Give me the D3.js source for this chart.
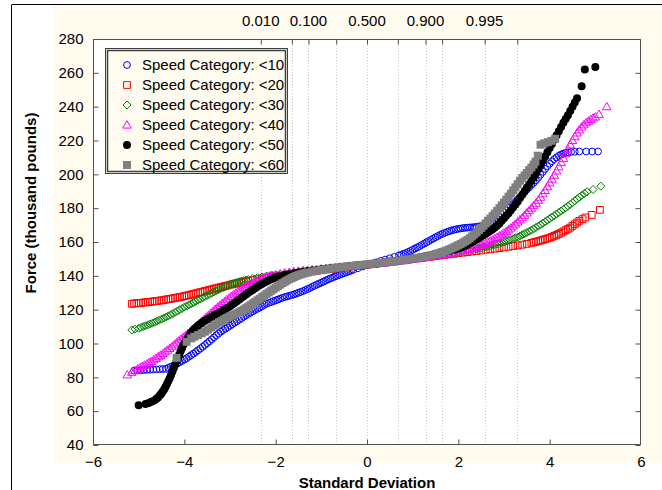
<!DOCTYPE html>
<html><head><meta charset="utf-8">
<script src="https://cdn.jsdelivr.net/npm/d3@7"></script>
<style>
html,body{margin:0;padding:0;background:#fff;}
svg{display:block;font-family:"Liberation Sans",Arial,sans-serif;}
</style></head>
<body>
<svg id="chart" width="662" height="490"></svg>
<script>
// ---------------- data ----------------
const seriesNames = ["Speed Category: <10","Speed Category: <20","Speed Category: <30","Speed Category: <40","Speed Category: <50","Speed Category: <60"];
const yTicks = [40,60,80,100,120,140,160,180,200,220,240,260,280];
const xTicks = [-6,-4,-2,0,2,4,6];
const probGrid = [0.01,0.05,0.1,0.25,0.5,0.75,0.9,0.95,0.995,0.9995];
const probGridZ = [-2.326,-1.645,-1.282,-0.674,0,0.674,1.282,1.645,2.576,3.291];
const probLabels = ["0.010","0.100","0.500","0.900","0.995"];
const probLabelZ = [-2.326,-1.282,0,1.282,2.576];

const sp10 = [[-5.1,84],[-5.03,84.1],[-4.96,84.2],[-4.89,84.3],[-4.82,84.4],[-4.75,84.5],[-4.68,84.6],[-4.61,84.7],[-4.54,84.8],[-4.47,84.9],[-4.4,85],[-4.35,85.6],[-4.3,86.2],[-4.25,86.8],[-4.2,87.5],[-4.15,88.2],[-4.1,89],[-4.05,89.7],[-4.0,90.5],[-3.95,91.3],[-3.9,92.2],[-3.85,93.1],[-3.8,94],[-3.75,95],[-3.7,96],[-3.65,97],[-3.6,98],[-3.55,99.1],[-3.5,100.2],[-3.45,101.3],[-3.4,102.5],[-3.35,103.6],[-3.3,104.8],[-3.25,105.9],[-3.2,107],[-3.15,107.9],[-3.1,108.8],[-3.05,109.6],[-3.0,110.5],[-2.95,111.4],[-2.9,112.3],[-2.85,113.1],[-2.8,114],[-2.75,114.9],[-2.7,115.8],[-2.65,116.6],[-2.6,117.5],[-2.55,118.2],[-2.5,119],[-2.45,119.8],[-2.4,120.5],[-2.35,121.2],[-2.3,122],[-2.25,122.8],[-2.2,123.5],[-2.15,124],[-2.1,124.5],[-2.05,125],[-2.0,125.5],[-1.95,126],[-1.9,126.5],[-1.85,127],[-1.8,127.5],[-1.75,127.8],[-1.7,128.2],[-1.65,128.6],[-1.6,129],[-1.55,129.5],[-1.5,130],[-1.45,130.5],[-1.4,131],[-1.35,131.6],[-1.3,132.2],[-1.25,132.8],[-1.2,133.5],[-1.15,134.1],[-1.1,134.8],[-1.05,135.4],[-1.0,136],[-0.95,136.6],[-0.9,137.3],[-0.85,137.9],[-0.8,138.5],[-0.75,139],[-0.7,139.6],[-0.65,140.1],[-0.6,140.6],[-0.55,141.1],[-0.5,141.6],[-0.45,142.1],[-0.4,142.6],[-0.35,143.1],[-0.3,143.6],[-0.2,144.5],[-0.1,145.5],[0,146.4],[0.1,147.2],[0.2,148],[0.3,148.8],[0.4,149.6],[0.5,150.4],[0.6,151.2],[0.7,152.1],[0.75,152.5],[0.8,153],[0.85,153.5],[0.9,154.1],[0.95,154.7],[1.0,155.4],[1.05,156.1],[1.1,156.8],[1.15,157.5],[1.2,158.3],[1.25,159],[1.3,159.8],[1.35,160.5],[1.4,161.3],[1.45,162],[1.5,162.8],[1.55,163.5],[1.6,164.2],[1.65,164.8],[1.7,165.4],[1.75,165.9],[1.8,166.4],[1.85,166.8],[1.9,167.2],[1.95,167.5],[2.0,167.8],[2.05,168],[2.1,168.2],[2.15,168.4],[2.2,168.5],[2.25,168.6],[2.3,168.7],[2.35,168.8],[2.4,169],[2.45,169.2],[2.5,169.4],[2.55,169.7],[2.6,170],[2.65,170.4],[2.7,171],[2.75,171.8],[2.8,172.8],[2.85,173.8],[2.9,175],[2.95,176.2],[3.0,177.5],[3.05,178.7],[3.1,180],[3.15,181.2],[3.2,182.5],[3.25,183.8],[3.3,185.2],[3.35,186.6],[3.4,188],[3.45,189.5],[3.5,191],[3.55,192.3],[3.6,193.7],[3.65,195.1],[3.7,196.5],[3.75,198.1],[3.8,199.8],[3.85,201.5],[3.9,203.2],[3.95,204.8],[4.0,206.3],[4.05,207.7],[4.1,209],[4.15,210],[4.2,211],[4.25,211.7],[4.3,212.3],[4.35,212.7],[4.4,213],[4.47,213.2],[4.55,213.3],[4.65,213.5],[4.8,213.5],[4.93,213.5],[5.06,213.5]];
const sp20 = [[-5.15,123.5],[-5.1,123.6],[-5.05,123.8],[-5.0,123.9],[-4.95,124],[-4.9,124.2],[-4.85,124.3],[-4.8,124.5],[-4.75,124.6],[-4.7,124.8],[-4.65,125],[-4.6,125.1],[-4.55,125.3],[-4.5,125.5],[-4.45,125.7],[-4.4,126],[-4.35,126.2],[-4.3,126.4],[-4.25,126.7],[-4.2,126.9],[-4.15,127.2],[-4.1,127.4],[-4.05,127.7],[-4.0,128],[-3.95,128.3],[-3.9,128.6],[-3.85,129],[-3.8,129.3],[-3.75,129.6],[-3.7,130],[-3.65,130.3],[-3.6,130.6],[-3.55,131],[-3.5,131.3],[-3.45,131.7],[-3.4,132],[-3.35,132.4],[-3.3,132.7],[-3.25,133],[-3.2,133.4],[-3.15,133.7],[-3.1,134],[-3.05,134.3],[-3.0,134.7],[-2.95,135],[-2.9,135.3],[-2.85,135.6],[-2.8,135.9],[-2.75,136.2],[-2.7,136.5],[-2.65,136.7],[-2.6,137],[-2.5,137.5],[-2.4,138],[-2.3,138.5],[-2.2,139],[-2.1,139.4],[-2.0,139.8],[-1.9,140.2],[-1.8,140.5],[-1.7,140.9],[-1.6,141.2],[-1.5,141.6],[-1.4,142],[-1.3,142.3],[-1.2,142.6],[-1.1,143],[-1.0,143.3],[-0.9,143.7],[-0.8,144],[-0.7,144.3],[-0.6,144.6],[-0.5,145],[-0.4,145.3],[-0.3,145.7],[-0.2,146],[-0.1,146.2],[0,146.5],[0.1,146.9],[0.2,147.2],[0.3,147.5],[0.4,147.8],[0.5,148.2],[0.6,148.5],[0.7,148.9],[0.8,149.2],[0.9,149.6],[1.0,150],[1.1,150.3],[1.2,150.6],[1.3,151],[1.4,151.3],[1.5,151.7],[1.6,152],[1.7,152.4],[1.8,152.7],[1.9,153],[2.0,153.4],[2.1,153.7],[2.2,154],[2.3,154.4],[2.4,154.7],[2.5,155],[2.6,155.4],[2.7,155.7],[2.8,156.1],[2.9,156.4],[3.0,156.8],[3.1,157.2],[3.2,157.6],[3.3,158],[3.4,158.4],[3.5,158.9],[3.6,159.5],[3.65,159.8],[3.7,160.1],[3.75,160.5],[3.8,160.9],[3.85,161.3],[3.9,161.7],[3.95,162.1],[4.0,162.5],[4.05,163],[4.1,163.6],[4.15,164.2],[4.2,164.8],[4.25,165.5],[4.3,166.2],[4.35,167],[4.4,167.7],[4.45,168.5],[4.5,169.5],[4.55,170.5],[4.6,171.5],[4.65,172.5],[4.72,173.5],[4.78,174.5],[4.92,176],[5.1,179]];
const sp30 = [[-5.15,108],[-5.08,108.5],[-5.0,109],[-4.95,109.5],[-4.9,110],[-4.85,110.5],[-4.8,111],[-4.75,111.5],[-4.7,112],[-4.65,112.6],[-4.6,113.2],[-4.55,113.8],[-4.5,114.4],[-4.45,115],[-4.4,115.6],[-4.35,116.3],[-4.3,117],[-4.25,117.7],[-4.2,118.4],[-4.15,119.2],[-4.1,120],[-4.05,120.7],[-4.0,121.5],[-3.95,122.1],[-3.9,122.8],[-3.85,123.5],[-3.8,124.2],[-3.75,124.9],[-3.7,125.6],[-3.65,126.3],[-3.6,127],[-3.55,127.7],[-3.5,128.4],[-3.45,129.1],[-3.4,129.8],[-3.35,130.5],[-3.3,131.2],[-3.25,131.9],[-3.2,132.5],[-3.15,133.1],[-3.1,133.7],[-3.05,134.3],[-3.0,134.8],[-2.95,135.3],[-2.9,135.7],[-2.85,136.1],[-2.8,136.5],[-2.75,136.9],[-2.7,137.2],[-2.65,137.5],[-2.6,137.8],[-2.5,138.4],[-2.4,138.9],[-2.3,139.3],[-2.2,139.8],[-2.1,140.2],[-2.0,140.5],[-1.9,140.9],[-1.8,141.2],[-1.7,141.5],[-1.6,141.8],[-1.5,142.1],[-1.4,142.4],[-1.3,142.7],[-1.2,143],[-1.1,143.3],[-1.0,143.6],[-0.9,143.9],[-0.8,144.2],[-0.7,144.5],[-0.6,144.8],[-0.5,145.1],[-0.4,145.4],[-0.3,145.7],[-0.2,146],[-0.1,146.2],[0,146.5],[0.1,146.9],[0.2,147.2],[0.3,147.6],[0.4,147.9],[0.5,148.3],[0.6,148.6],[0.7,149],[0.8,149.3],[0.9,149.7],[1.0,150],[1.1,150.4],[1.2,150.7],[1.3,151.1],[1.4,151.5],[1.5,151.9],[1.6,152.3],[1.7,152.7],[1.8,153.1],[1.9,153.5],[2.0,154],[2.1,154.5],[2.2,155],[2.3,155.5],[2.4,156],[2.45,156.3],[2.5,156.6],[2.55,156.9],[2.6,157.2],[2.65,157.5],[2.7,157.8],[2.75,158.2],[2.8,158.5],[2.85,158.9],[2.9,159.2],[2.95,159.6],[3.0,160],[3.05,160.5],[3.1,161],[3.15,161.5],[3.2,162],[3.25,162.5],[3.3,163],[3.35,163.6],[3.4,164.3],[3.45,164.9],[3.5,165.6],[3.55,166.3],[3.6,167],[3.65,167.8],[3.7,168.6],[3.75,169.4],[3.8,170.2],[3.85,171.1],[3.9,172],[3.95,172.9],[4.0,173.8],[4.05,174.7],[4.1,175.6],[4.15,176.5],[4.2,177.4],[4.25,178.3],[4.3,179.3],[4.35,180.2],[4.4,181.2],[4.45,182.2],[4.5,183.2],[4.55,184.4],[4.6,185.5],[4.65,186.5],[4.7,187.5],[4.76,188.7],[4.82,189.7],[4.95,191],[5.12,193]];
const sp40 = [[-5.25,81.5],[-5.15,83],[-5.08,84],[-5.02,85],[-4.97,85.7],[-4.92,86.5],[-4.87,87.2],[-4.82,88],[-4.77,88.7],[-4.72,89.5],[-4.67,90.4],[-4.62,91.3],[-4.57,92.2],[-4.52,93.1],[-4.47,94.1],[-4.42,95.1],[-4.37,96.1],[-4.32,97.1],[-4.27,98.2],[-4.22,99.3],[-4.17,100.4],[-4.12,101.5],[-4.07,102.6],[-4.02,103.7],[-3.97,104.8],[-3.92,106],[-3.87,107.1],[-3.82,108.3],[-3.77,109.5],[-3.72,110.7],[-3.67,111.9],[-3.62,113.1],[-3.57,114.3],[-3.52,115.5],[-3.47,116.7],[-3.42,117.9],[-3.37,119.1],[-3.32,120.3],[-3.27,121.5],[-3.22,122.6],[-3.17,123.7],[-3.12,124.8],[-3.07,125.9],[-3.02,126.9],[-2.97,127.9],[-2.92,128.9],[-2.87,129.8],[-2.82,130.7],[-2.77,131.6],[-2.72,132.4],[-2.67,133.2],[-2.62,134],[-2.57,134.8],[-2.52,135.5],[-2.47,136.2],[-2.42,136.9],[-2.37,137.5],[-2.32,138.1],[-2.27,138.6],[-2.22,139.1],[-2.17,139.5],[-2.12,139.9],[-2.07,140.2],[-2.0,140.6],[-1.9,141.2],[-1.8,141.7],[-1.7,142.1],[-1.6,142.5],[-1.5,142.8],[-1.4,143.1],[-1.3,143.3],[-1.2,143.6],[-1.1,143.8],[-1.0,144.1],[-0.9,144.3],[-0.8,144.6],[-0.7,144.8],[-0.6,145.1],[-0.5,145.3],[-0.4,145.6],[-0.3,145.8],[-0.2,146.1],[-0.1,146.3],[0,146.6],[0.1,146.8],[0.2,147.1],[0.3,147.4],[0.4,147.7],[0.5,148],[0.6,148.3],[0.7,148.7],[0.8,149],[0.9,149.4],[1.0,149.8],[1.1,150.2],[1.2,150.6],[1.3,151],[1.4,151.4],[1.5,151.8],[1.6,152.2],[1.7,152.7],[1.8,153.2],[1.9,153.7],[2.0,154.2],[2.1,154.8],[2.2,155.5],[2.25,155.8],[2.3,156.2],[2.35,156.6],[2.4,157.1],[2.45,157.6],[2.5,158.1],[2.55,158.7],[2.6,159.3],[2.65,159.9],[2.7,160.6],[2.75,161.3],[2.8,162.1],[2.85,162.8],[2.9,163.6],[2.95,164.4],[3.0,165.3],[3.05,166.2],[3.1,167.2],[3.15,168.3],[3.2,169.4],[3.25,170.6],[3.3,171.8],[3.35,173.1],[3.4,174.4],[3.45,175.8],[3.5,177.2],[3.55,178.6],[3.6,180],[3.65,181.5],[3.7,183],[3.75,184.7],[3.8,186.5],[3.85,188.5],[3.9,190.5],[3.95,192.7],[4.0,195],[4.05,197.2],[4.1,199.5],[4.15,202],[4.2,204.5],[4.25,207],[4.3,209.5],[4.35,212.2],[4.4,215],[4.45,217.5],[4.5,220],[4.55,222.3],[4.6,224.5],[4.65,226.3],[4.7,228],[4.75,229.3],[4.8,230.5],[4.85,231.5],[4.9,232.5],[4.95,233.3],[5.0,234],[5.08,235.5],[5.25,240]];
const sp50 = [[-5.0,63.5],[-4.85,64.2],[-4.78,64.8],[-4.72,65.5],[-4.66,66.3],[-4.61,67.3],[-4.57,68.3],[-4.53,69.5],[-4.5,70.5],[-4.47,71.8],[-4.44,73],[-4.41,74.5],[-4.38,76],[-4.35,77.8],[-4.32,79.5],[-4.29,81.5],[-4.26,83.5],[-4.23,85.5],[-4.2,87.5],[-4.17,89.5],[-4.14,91.5],[-4.11,93.5],[-4.08,95.5],[-4.05,97.3],[-4.02,99.2],[-3.98,101],[-3.94,102.8],[-3.9,104.3],[-3.86,106],[-3.82,107.3],[-3.78,108.5],[-3.74,109.5],[-3.7,110.5],[-3.65,111.5],[-3.6,112.5],[-3.55,113.4],[-3.5,114.2],[-3.45,115],[-3.4,115.8],[-3.35,116.5],[-3.3,117.3],[-3.25,118],[-3.2,118.8],[-3.15,119.6],[-3.1,120.4],[-3.05,121.2],[-3.0,122],[-2.95,123],[-2.9,124],[-2.85,125],[-2.8,126],[-2.75,127],[-2.7,128],[-2.65,129],[-2.6,130],[-2.55,130.9],[-2.5,131.8],[-2.45,132.7],[-2.4,133.5],[-2.35,134.4],[-2.3,135.2],[-2.25,136],[-2.2,136.7],[-2.15,137.4],[-2.1,138],[-2.05,138.5],[-2.0,139],[-1.95,139.4],[-1.9,139.8],[-1.8,140.5],[-1.7,141],[-1.6,141.5],[-1.5,142],[-1.4,142.4],[-1.3,142.8],[-1.2,143.2],[-1.1,143.5],[-1.0,143.9],[-0.9,144.2],[-0.8,144.5],[-0.7,144.8],[-0.6,145.1],[-0.5,145.4],[-0.4,145.7],[-0.3,145.9],[-0.2,146.2],[-0.1,146.4],[0,146.7],[0.1,147],[0.2,147.3],[0.3,147.6],[0.4,148],[0.5,148.3],[0.6,148.7],[0.7,149],[0.8,149.4],[0.9,149.8],[1.0,150.2],[1.1,150.7],[1.2,151.2],[1.3,151.7],[1.4,152.2],[1.5,152.8],[1.6,153.4],[1.7,154],[1.8,154.7],[1.9,155.4],[1.95,155.8],[2.0,156.2],[2.05,156.6],[2.1,157.2],[2.15,157.8],[2.2,158.5],[2.25,159.2],[2.3,160],[2.35,160.8],[2.4,161.6],[2.45,162.4],[2.5,163.2],[2.55,164],[2.6,164.9],[2.65,165.8],[2.7,166.7],[2.75,167.6],[2.8,168.5],[2.85,169.7],[2.9,171],[2.95,172.5],[3.0,174],[3.05,175.5],[3.1,177],[3.15,178.7],[3.2,180.5],[3.25,182.2],[3.3,184],[3.35,186],[3.4,188],[3.45,190],[3.5,192],[3.55,194],[3.6,196],[3.65,198.2],[3.7,200.5],[3.75,203],[3.8,205.5],[3.85,208],[3.9,210.5],[3.95,213],[4.0,215.5],[4.05,218],[4.1,220.5],[4.15,223],[4.2,225.5],[4.25,228],[4.3,230.5],[4.35,232.7],[4.4,235],[4.45,237.5],[4.5,240],[4.55,242.5],[4.6,245],[4.7,252],[4.77,262],[5.0,263.5]];
const sp60 = [[-4.17,91.5],[-3.95,101],[-3.85,103],[-3.78,104],[-3.7,105],[-3.62,106],[-3.55,107],[-3.48,108.2],[-3.41,109.4],[-3.35,110.5],[-3.29,111.6],[-3.24,112.5],[-3.18,113.4],[-3.13,114.2],[-3.07,115],[-3.02,115.8],[-2.96,116.5],[-2.91,117.2],[-2.85,117.8],[-2.8,118.5],[-2.75,119.2],[-2.7,120],[-2.65,120.9],[-2.6,121.8],[-2.55,122.7],[-2.5,123.6],[-2.45,124.5],[-2.4,125.5],[-2.35,126.4],[-2.3,127.4],[-2.25,128.3],[-2.2,129.3],[-2.15,130.2],[-2.1,131.2],[-2.05,132.1],[-2.0,133],[-1.95,133.9],[-1.9,134.8],[-1.85,135.7],[-1.8,136.5],[-1.75,137.3],[-1.7,138],[-1.65,138.7],[-1.6,139.3],[-1.55,139.9],[-1.5,140.4],[-1.45,140.9],[-1.4,141.3],[-1.35,141.7],[-1.3,142],[-1.2,142.6],[-1.1,143.1],[-1.0,143.5],[-0.9,143.9],[-0.8,144.3],[-0.7,144.7],[-0.6,145],[-0.5,145.3],[-0.4,145.6],[-0.3,145.9],[-0.2,146.2],[-0.1,146.5],[0,146.8],[0.1,147.1],[0.2,147.4],[0.3,147.7],[0.4,148],[0.5,148.3],[0.6,148.7],[0.7,149],[0.8,149.4],[0.9,149.8],[1.0,150.2],[1.1,150.6],[1.2,151.1],[1.3,151.6],[1.4,152.2],[1.5,152.9],[1.55,153.2],[1.6,153.6],[1.65,154.1],[1.7,154.5],[1.75,155],[1.8,155.6],[1.85,156.2],[1.9,156.8],[1.95,157.4],[2.0,158.1],[2.05,158.8],[2.1,159.6],[2.15,160.4],[2.2,161.2],[2.25,162.2],[2.3,163.3],[2.35,164.5],[2.4,165.7],[2.45,167],[2.5,168.3],[2.55,169.6],[2.6,171],[2.65,172.4],[2.7,173.8],[2.75,175.3],[2.8,176.8],[2.85,178.4],[2.9,180],[2.95,181.6],[3.0,183.3],[3.05,185],[3.1,186.8],[3.15,188.6],[3.2,190.5],[3.25,192.3],[3.3,194.2],[3.35,196.2],[3.4,197.8],[3.45,199.3],[3.5,200.8],[3.55,202.5],[3.6,204],[3.65,205.8],[3.69,207.5],[3.74,211],[3.8,217.5],[3.88,218.3],[3.96,219],[4.04,219.8],[4.12,221]];

const seriesData = [sp10, sp20, sp30, sp40, sp50, sp60];
const seriesColors = ["#0000ff","#ff0000","#008000","#ff00ff","#000000","#808080"];
const seriesShapes = ["circle","square","diamond","triangle","dot","block"];

// ---------------- layout ----------------
const svg = d3.select("#chart");
const M = {left:93, right:641, top:39, bottom:445};
const x = d3.scaleLinear().domain([-6,6]).range([M.left, M.right]);
const y = d3.scaleLinear().domain([40,280]).range([M.bottom, M.top]);

svg.append("rect").attr("x",53).attr("y",5).attr("width",609).attr("height",458).attr("fill","#fffbef");
svg.append("line").attr("x1",12).attr("x2",662).attr("y1",4.5).attr("y2",4.5).attr("stroke","#000");
svg.append("line").attr("x1",11.5).attr("x2",11.5).attr("y1",4.5).attr("y2",490).attr("stroke","#000");
svg.append("rect").attr("x",M.left).attr("y",M.top).attr("width",M.right-M.left).attr("height",M.bottom-M.top).attr("fill","#fff");

svg.append("g").selectAll("line").data(probGridZ).join("line")
  .attr("x1",d=>Math.round(x(d))+0.5).attr("x2",d=>Math.round(x(d))+0.5)
  .attr("y1",M.top).attr("y2",M.bottom)
  .attr("stroke","#c8c8c8").attr("stroke-dasharray","1,2");

function shapePath(kind){
  switch(kind){
    case "circle": return "M3.4,0A3.4,3.4 0 1,1 -3.4,0A3.4,3.4 0 1,1 3.4,0Z";
    case "square": return "M-3.4,-3.4H3.4V3.4H-3.4Z";
    case "diamond": return "M0,-4L4,0L0,4L-4,0Z";
    case "triangle": return "M0,-4.3L4.3,3.1L-4.3,3.1Z";
    case "dot": return "M4,0A4,4 0 1,1 -4,0A4,4 0 1,1 4,0Z";
    case "block": return "M-4,-4H4V4H-4Z";
  }
}
function styleSym(sel, i){
  const filled = seriesShapes[i]==="dot" || seriesShapes[i]==="block";
  sel.attr("d", shapePath(seriesShapes[i]))
     .attr("fill", filled ? seriesColors[i] : "none")
     .attr("stroke", filled ? "none" : seriesColors[i])
     .attr("stroke-width", 1);
}

const plot = svg.append("g");
seriesData.forEach((data,i)=>{
  plot.append("g").selectAll("path").data(data).join("path")
    .attr("transform", d=>`translate(${x(d[0])},${y(d[1])})`)
    .call(styleSym, i);
});

svg.append("rect").attr("x",M.left+0.5).attr("y",M.top+0.5).attr("width",M.right-M.left-1).attr("height",M.bottom-M.top-1)
  .attr("fill","none").attr("stroke","#505050");

const fontSize = 15;
const gL = svg.append("g").attr("transform",`translate(${M.left+0.5},0)`)
  .call(d3.axisLeft(y).tickValues(yTicks).tickSizeInner(-5).tickSizeOuter(0).tickPadding(10).tickFormat(d3.format("d")));
const gR = svg.append("g").attr("transform",`translate(${M.right-0.5},0)`)
  .call(d3.axisRight(y).tickValues(yTicks).tickSizeInner(-5).tickSizeOuter(0).tickFormat(""));
const gB = svg.append("g").attr("transform",`translate(0,${M.bottom-0.5})`)
  .call(d3.axisBottom(x).tickValues(xTicks).tickSizeInner(-5).tickSizeOuter(0).tickPadding(12).tickFormat(d3.format("d")));
const gT = svg.append("g").attr("transform",`translate(0,${M.top+0.5})`)
  .call(d3.axisTop(x).tickValues(probGridZ).tickSizeInner(-5).tickSizeOuter(0).tickFormat(""));
[gL,gR,gB,gT].forEach(g=>{
  g.select(".domain").remove();
  g.selectAll(".tick line").attr("stroke","#505050");
  g.selectAll("text").attr("font-size",fontSize).attr("font-family","Liberation Sans, Arial, sans-serif").attr("fill","#000");
});
gB.selectAll(".tick").filter(d=>d===-6||d===6).select("line").remove();

svg.append("g").selectAll("text").data(probLabels).join("text")
  .attr("x",(d,i)=>x(probLabelZ[i])).attr("y",26)
  .attr("text-anchor","middle").attr("font-size",fontSize).text(d=>d);

svg.append("text").attr("x",(M.left+M.right)/2).attr("y",488).attr("text-anchor","middle")
  .attr("font-weight","bold").attr("font-size",15).text("Standard Deviation");
svg.append("text").attr("transform","translate(36,203) rotate(-90)").attr("text-anchor","middle")
  .attr("font-weight","bold").attr("font-size",15).text("Force (thousand pounds)");

const L = {x:105, y:48, w:182, h:125};
svg.append("rect").attr("x",L.x+0.5).attr("y",L.y+0.5).attr("width",L.w).attr("height",L.h)
  .attr("fill","#fffbef").attr("stroke","#404040");
svg.append("rect").attr("x",L.x+2.5).attr("y",L.y+2.5).attr("width",L.w-4).attr("height",L.h-4)
  .attr("fill","none").attr("stroke","#404040").attr("stroke-width",1.5);
const leg = svg.append("g").selectAll("g").data(seriesNames).join("g")
  .attr("transform",(d,i)=>`translate(${L.x},${L.y+17+i*20})`);
leg.append("path").attr("transform","translate(22,0)").each(function(d,i){ d3.select(this).call(styleSym,i); });
leg.append("text").attr("x",37).attr("y",5).attr("font-size",15).text(d=>d);
</script>
</body></html>
